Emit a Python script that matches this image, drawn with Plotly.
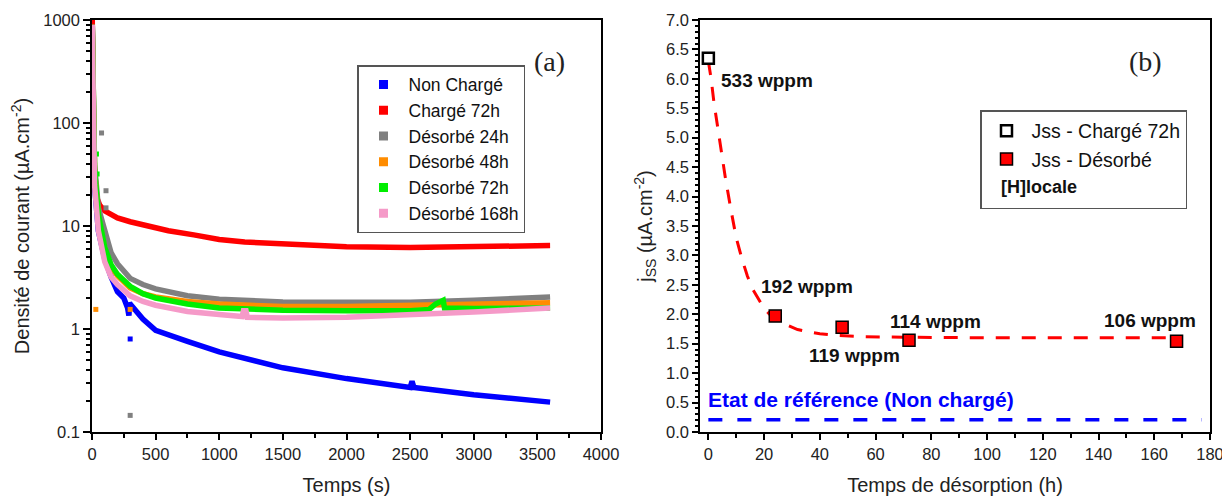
import plotly.graph_objects as go

# ---------------- Panel (a) data: current density vs time ----------------
t_non = [2, 10, 20, 50, 100, 150, 200, 250, 280, 290, 295, 300, 400, 500, 750, 1000, 1500, 2000, 2500, 2515, 2530, 3000, 3600]
j_non = [900, 80, 25, 9, 4.8, 3.2, 2.3, 2.0, 1.6, 1.35, 1.8, 1.75, 1.25, 0.97, 0.76, 0.6, 0.42, 0.33, 0.27, 0.31, 0.27, 0.23, 0.195]

t_ch72 = [2, 8, 15, 30, 60, 100, 200, 300, 450, 600, 800, 1000, 1200, 1500, 2000, 2500, 3000, 3600]
j_ch72 = [1000, 100, 40, 20, 16, 14, 12, 11, 10, 9, 8.2, 7.4, 7.0, 6.7, 6.3, 6.2, 6.3, 6.45]

t_d24 = [2, 10, 20, 50, 100, 150, 200, 300, 400, 500, 750, 1000, 1500, 2000, 2500, 3000, 3600]
j_d24 = [900, 100, 40, 15, 9, 5.5, 4.3, 3.1, 2.7, 2.45, 2.1, 1.95, 1.83, 1.8, 1.82, 1.9, 2.05]

t_d48 = [2, 10, 20, 50, 100, 150, 200, 300, 400, 500, 750, 1000, 1500, 2000, 2500, 3000, 3600]
j_d48 = [900, 100, 35, 12, 6, 4, 3.3, 2.5, 2.2, 2.05, 1.85, 1.75, 1.65, 1.65, 1.7, 1.75, 1.8]

t_d72 = [2, 10, 20, 50, 100, 150, 200, 300, 400, 500, 750, 1000, 1500, 2000, 2500, 2650, 2700, 2760, 2770, 3000, 3600]
j_d72 = [900, 100, 35, 13, 6.2, 4.2, 3.4, 2.6, 2.2, 2.0, 1.75, 1.6, 1.52, 1.5, 1.5, 1.55, 1.75, 1.9, 1.6, 1.58, 1.6]

t_d168 = [2, 10, 20, 50, 100, 150, 200, 300, 400, 500, 750, 1000, 1180, 1190, 1210, 1220, 1500, 2000, 2500, 3000, 3600]
j_d168 = [900, 80, 25, 9, 4.5, 3.2, 2.7, 2.1, 1.85, 1.7, 1.48, 1.38, 1.32, 1.5, 1.5, 1.3, 1.28, 1.3, 1.36, 1.46, 1.6]

# isolated scattered points
out_t_non = [300]
out_j_non = [0.8]
out_t_d24 = [75, 110, 110, 300]
out_j_d24 = [80, 22, 15, 0.145]
out_t_d48 = [30, 300]
out_j_d48 = [1.55, 1.55]
out_t_d72 = [35, 40]
out_j_d72 = [50, 32]

names_a = ["Non Chargé", "Chargé 72h", "Désorbé 24h", "Désorbé 48h", "Désorbé 72h", "Désorbé 168h"]
colors_a = ["#0000ff", "#ff0000", "#808080", "#ff8c00", "#00ee00", "#f59ac8"]

yticks_a = [0.1, 1, 10, 100, 1000]
yticktext_a = ["0.1", "1", "10", "100", "1000"]

# ---------------- Panel (b) data: steady-state current vs desorption time ----------------
t_charged = [0]
jss_charged = [6.35]
t_desorb = [24, 48, 72, 168]
jss_desorb = [1.97, 1.78, 1.56, 1.54]

fit_t = [0, 1, 2, 4, 6, 8, 10, 12, 14, 16, 18, 20, 22, 24, 28, 32, 36, 40, 46, 55, 70, 100, 168]
fit_j = [6.3, 6.0, 5.6, 4.95, 4.35, 3.8, 3.3, 2.95, 2.65, 2.42, 2.25, 2.1, 2.0, 1.92, 1.82, 1.74, 1.7, 1.67, 1.64, 1.62, 1.61, 1.6, 1.6]

ref_t = [0, 177]
ref_j = [0.21, 0.21]

labels_b = ["533 wppm", "192 wppm", "119 wppm", "114 wppm", "106 wppm"]
label_x = [21, 35.5, 52.5, 81.5, 158.5]
label_y = [5.98, 2.47, 1.30, 1.88, 1.90]

FONT = "Liberation Sans"
W, H = 1222, 488          # page body has an 8px margin
OFF = 8
T_M, B_M = 12, 64


def px(xp):
    return (xp - OFF) / W


def py(yp):
    return (H - B_M - (yp - OFF)) / (H - T_M - B_M)


fig = go.Figure()

series = [(t_non, j_non), (t_ch72, j_ch72), (t_d24, j_d24), (t_d48, j_d48), (t_d72, j_d72), (t_d168, j_d168)]
outs = {0: (out_t_non, out_j_non), 2: (out_t_d24, out_j_d24), 3: (out_t_d48, out_j_d48), 4: (out_t_d72, out_j_d72)}

for i, (tt, jj) in enumerate(series):
    fig.add_trace(go.Scatter(x=tt, y=jj, mode="lines", line=dict(color=colors_a[i], width=5.5),
                             showlegend=False, xaxis="x", yaxis="y"))
    if i in outs:
        ot, oj = outs[i]
        fig.add_trace(go.Scatter(x=ot, y=oj, mode="markers", marker=dict(color=colors_a[i], size=5, symbol="square"),
                                 showlegend=False, xaxis="x", yaxis="y"))
for i in range(len(names_a)):
    fig.add_trace(go.Scatter(x=[None], y=[None], mode="markers", name=names_a[i],
                             marker=dict(color=colors_a[i], size=9, symbol="square"),
                             legend="legend", xaxis="x", yaxis="y"))

# panel (b)
fig.add_trace(go.Scatter(x=fit_t, y=fit_j, mode="lines", line=dict(color="#ff0000", width=3, dash="14px,12px"),
                         showlegend=False, xaxis="x2", yaxis="y2"))
fig.add_trace(go.Scatter(x=ref_t, y=ref_j, mode="lines", line=dict(color="#0000ff", width=3.5, dash="14px,15px"),
                         showlegend=False, xaxis="x2", yaxis="y2"))
fig.add_trace(go.Scatter(x=t_charged, y=jss_charged, mode="markers", name="Jss - Chargé 72h",
                         marker=dict(color="white", size=11, symbol="square", line=dict(color="black", width=2.5)),
                         legend="legend2", xaxis="x2", yaxis="y2"))
fig.add_trace(go.Scatter(x=t_desorb, y=jss_desorb, mode="markers", name="Jss - Désorbé",
                         marker=dict(color="#ff0000", size=12, symbol="square", line=dict(color="black", width=1.5)),
                         legend="legend2", xaxis="x2", yaxis="y2"))
fig.add_trace(go.Scatter(x=[None], y=[None], mode="markers", name=" ",
                         marker=dict(color="rgba(0,0,0,0)", size=1),
                         legend="legend2", xaxis="x2", yaxis="y2"))

axis_common = dict(showline=True, linecolor="black", linewidth=1.5, mirror=True, ticks="outside",
                   tickcolor="black", tickwidth=1.5, showgrid=False, zeroline=False, automargin=False,
                   tickfont=dict(family=FONT, size=16.5, color="#222"))
title_font = dict(family=FONT, size=20, color="#222")

minor_log = [m * 10 ** e for e in range(-1, 3) for m in range(2, 10)]

fig.update_layout(
    width=W, height=H,
    margin=dict(l=0, r=0, t=T_M, b=B_M),
    paper_bgcolor="white", plot_bgcolor="white",
    font=dict(family=FONT, color="#222"),
    xaxis=dict(domain=[px(92), px(601)], range=[0, 4000], dtick=500, ticklen=6,
               minor=dict(ticks="outside", dtick=250, ticklen=4, tickcolor="black"),
               title=dict(text="Temps (s)", font=title_font, standoff=16),
               anchor="y", **axis_common),
    yaxis=dict(type="log", range=[-1, 3], tickvals=yticks_a, ticktext=yticktext_a, ticklen=7,
               minor=dict(ticks="outside", tickvals=minor_log, ticklen=4, tickcolor="black"),
               title=dict(text="Densité de courant (µA.cm<sup>-2</sup>)", font=title_font, standoff=8),
               anchor="x", **axis_common),
    xaxis2=dict(domain=[px(700), px(1210)], range=[-3, 180], dtick=20, ticklen=6,
                minor=dict(ticks="outside", dtick=10, ticklen=4, tickcolor="black"),
                title=dict(text="Temps de désorption (h)", font=title_font, standoff=16),
                anchor="y2", **axis_common),
    yaxis2=dict(range=[0, 7], dtick=0.5, tickformat=".1f", ticklen=6,
                minor=dict(ticks="outside", dtick=0.1, ticklen=3, tickcolor="black"),
                title=dict(text="j<sub>SS</sub> (µA.cm<sup>-2</sup>)", font=title_font, standoff=8),
                anchor="x2", **axis_common),
    legend=dict(x=px(357), y=py(65), xanchor="left", yanchor="top",
                bgcolor="white", bordercolor="#555", borderwidth=1.5,
                font=dict(family=FONT, size=17.5, color="#111"), itemwidth=40,
                tracegroupgap=0),
    legend2=dict(x=px(980), y=py(110), xanchor="left", yanchor="top",
                 bgcolor="white", bordercolor="#555", borderwidth=1.5,
                 font=dict(family=FONT, size=19.5, color="#111"), itemwidth=40,
                 tracegroupgap=0),
)

annotations = [
    dict(text="(a)", x=px(549), y=py(44), xref="paper", yref="paper", showarrow=False,
         font=dict(family="Liberation Serif", size=28, color="#222")),
    dict(text="(b)", x=px(1164), y=py(44), xref="paper", yref="paper", showarrow=False,
         font=dict(family="Liberation Serif", size=28, color="#222")),
    dict(text="<b>[H]locale</b>", x=px(999), y=py(187), xref="paper", yref="paper",
         xanchor="left", showarrow=False, font=dict(family=FONT, size=18, color="#111")),
    dict(text="<b>Etat de référence (Non chargé)</b>", x=-1, y=0.55, xref="x2", yref="y2",
         xanchor="left", showarrow=False, font=dict(family=FONT, size=21, color="#0000ff")),
]
for txt, lx, ly in zip(labels_b, label_x, label_y):
    annotations.append(dict(text="<b>" + txt + "</b>", x=lx, y=ly, xref="x2", yref="y2", showarrow=False,
                            font=dict(family=FONT, size=19, color="#111")))
fig.update_layout(annotations=annotations)

fig.write_html("out.html")
